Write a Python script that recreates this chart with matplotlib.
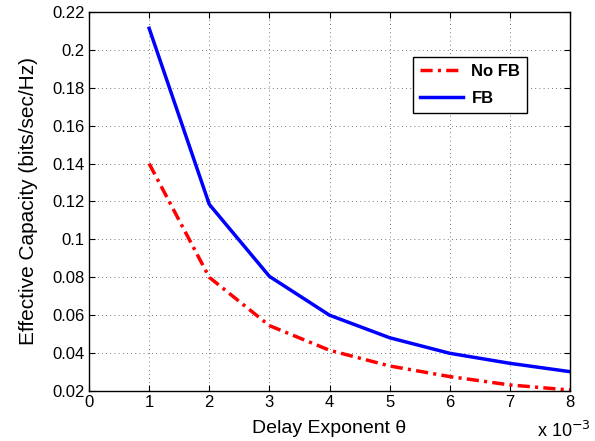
import matplotlib.pyplot as plt

plt.rcParams['font.family'] = ['Liberation Sans', 'DejaVu Sans']

# delay exponent theta, in units of 1e-3
theta = [1, 2, 3, 4, 5, 6, 7, 8]
no_fb = [0.140, 0.080, 0.0545, 0.0415, 0.0332, 0.0276, 0.0232, 0.0205]
fb = [0.2114, 0.1185, 0.0805, 0.0600, 0.0481, 0.0399, 0.0346, 0.0302]

fig = plt.figure(figsize=(5.95, 4.41), dpi=100)
ax = fig.add_axes([0.1496, 0.1134, 0.8084, 0.8594])

ax.plot(theta, no_fb, color='red', lw=2.5, dashes=[3.5, 1.5, 0.9, 1.5], label='No FB')
ax.plot(theta, fb, color='blue', lw=2.5, label='FB')

ax.set_xlim(0, 8)
ax.set_ylim(0.02, 0.22)
ax.set_xticks(range(0, 9))
ax.set_yticks([0.02, 0.04, 0.06, 0.08, 0.1, 0.12, 0.14, 0.16, 0.18, 0.2, 0.22])
ax.set_yticklabels(['0.02', '0.04', '0.06', '0.08', '0.1', '0.12', '0.14',
                    '0.16', '0.18', '0.2', '0.22'])
ax.tick_params(direction='in', top=True, right=True, labelsize=12, length=4, pad=3)
ax.grid(True, color='black', linestyle=(0, (1, 4)), lw=0.6, alpha=0.7)
for s in ax.spines.values():
    s.set_linewidth(1.0)

ax.set_xlabel('Delay Exponent \u03b8', fontsize=14, labelpad=7)
ax.set_ylabel('Effective Capacity (bits/sec/Hz)', fontsize=15, labelpad=10)
fig.text(0.993, 0.022, r'x 10$^{-3}$', ha='right', va='center', fontsize=13)

leg = ax.legend(loc='upper right', bbox_to_anchor=(0.9106, 0.881), borderaxespad=0,
                fancybox=False, edgecolor='black', framealpha=1,
                prop={'weight': 'bold', 'size': 12}, handlelength=2.6,
                handletextpad=0.5, borderpad=0.4, labelspacing=0.75)
leg.get_frame().set_linewidth(1.0)

fig.savefig('out.png', dpi=100)
